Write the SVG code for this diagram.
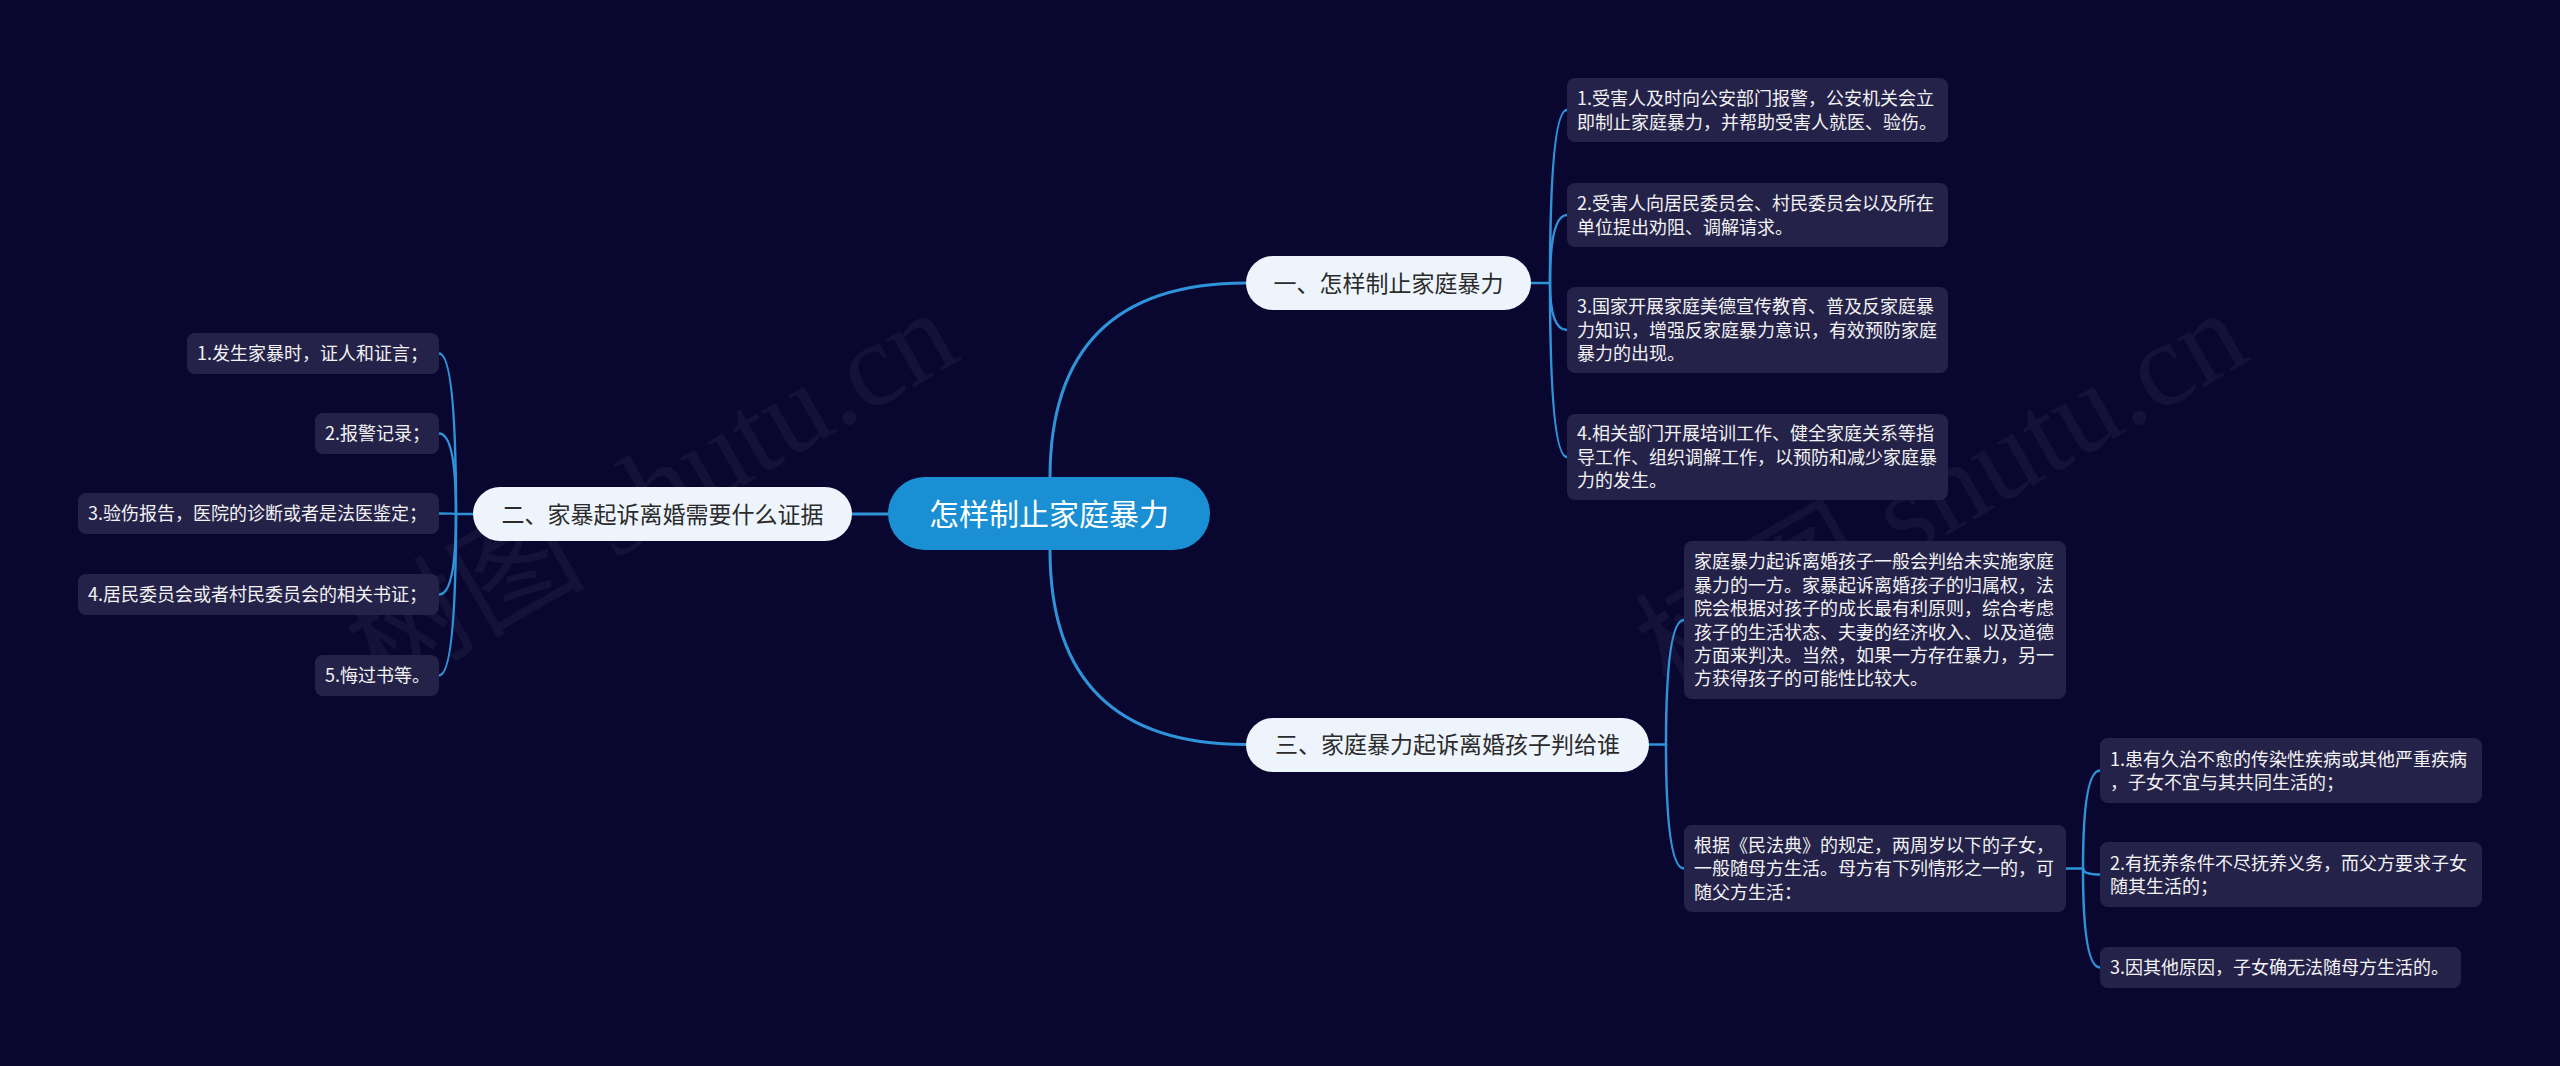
<svg xmlns="http://www.w3.org/2000/svg" width="2560" height="1066" viewBox="0 0 2560 1066">
<style>
.bg{fill:#09062f}
.wm{font-family:"Liberation Serif","Noto Sans CJK SC",serif;font-size:120px;fill:#ffffff;fill-opacity:0.05}
.root rect{fill:#1a8fd3}
.root text{font-family:"Noto Sans CJK SC",sans-serif;font-size:30px;fill:#ffffff;text-anchor:middle}
.br rect{fill:#eef4fc}
.br text{font-family:"Noto Sans CJK SC",sans-serif;font-size:23px;fill:#2b2b2b;text-anchor:middle}
.lf rect{fill:#25224a}
.lf text{font-family:"Noto Sans CJK SC",sans-serif;font-size:18px;fill:#f2f2f2}
.c1{fill:none;stroke:#2f93da;stroke-width:3;stroke-linecap:round}
.c2{fill:none;stroke:#2f93da;stroke-width:2.5;stroke-linecap:round}
</style>
<rect class="bg" x="0" y="0" width="2560" height="1066"/>
<g id="watermarks">
<text class="wm" x="380" y="695" transform="rotate(-30 380 695)">树图 shutu.cn</text>
<text class="wm" x="1670" y="695" transform="rotate(-30 1670 695)">树图 shutu.cn</text>
</g>
<g id="connectors">
<path class="c1" d="M1050 478 Q1050 283 1246 283"/>
<path class="c1" d="M1050 550 Q1050 744.5 1246 744.5"/>
<path class="c1" d="M888 514 L852 514"/>
<path class="c2" d="M1531 283 H1550"/>
<path class="c2" d="M1550 283 Q1550 110 1567 110"/>
<path class="c2" d="M1550 283 Q1550 215 1567 215"/>
<path class="c2" d="M1550 283 Q1550 330 1567 330"/>
<path class="c2" d="M1550 283 Q1550 457 1567 457"/>
<path class="c2" d="M473 514 H456"/>
<path class="c2" d="M456 514 Q456 353.5 439 353.5"/>
<path class="c2" d="M456 514 Q456 433.5 439 433.5"/>
<path class="c2" d="M456 514 Q456 513.5 439 513.5"/>
<path class="c2" d="M456 514 Q456 594.5 439 594.5"/>
<path class="c2" d="M456 514 Q456 675.5 439 675.5"/>
<path class="c2" d="M1649 744.5 H1666"/>
<path class="c2" d="M1666 744.5 Q1666 620 1684 620"/>
<path class="c2" d="M1666 744.5 Q1666 868.5 1684 868.5"/>
<path class="c2" d="M2066 868.5 H2083"/>
<path class="c2" d="M2083 868.5 Q2083 770.5 2100 770.5"/>
<path class="c2" d="M2083 868.5 Q2083 874.5 2100 874.5"/>
<path class="c2" d="M2083 868.5 Q2083 967.5 2100 967.5"/>
</g>
<g id="root" class="root">
<rect x="888" y="477" width="322" height="73" rx="36.5"/>
<text x="1049" y="525">怎样制止家庭暴力</text>
</g>
<g id="branch1" class="br">
<rect x="1246" y="256" width="285" height="54" rx="27"/>
<text x="1388.5" y="291.5">一、怎样制止家庭暴力</text>
</g>
<g id="branch2" class="br">
<rect x="473" y="487" width="379" height="54" rx="27"/>
<text x="662.5" y="522.5">二、家暴起诉离婚需要什么证据</text>
</g>
<g id="branch3" class="br">
<rect x="1246" y="718" width="403" height="54" rx="27"/>
<text x="1447.5" y="753">三、家庭暴力起诉离婚孩子判给谁</text>
</g>
<g id="b1-leaf1" class="lf">
<rect x="1567" y="78" width="381" height="64" rx="8"/>
<text x="1577" y="105.1">1.受害人及时向公安部门报警，公安机关会立<tspan x="1577" dy="23.4">即制止家庭暴力，并帮助受害人就医、验伤。</tspan></text>
</g>
<g id="b1-leaf2" class="lf">
<rect x="1567" y="183" width="381" height="64" rx="8"/>
<text x="1577" y="210.1">2.受害人向居民委员会、村民委员会以及所在<tspan x="1577" dy="23.4">单位提出劝阻、调解请求。</tspan></text>
</g>
<g id="b1-leaf3" class="lf">
<rect x="1567" y="287" width="381" height="86" rx="8"/>
<text x="1577" y="313.4">3.国家开展家庭美德宣传教育、普及反家庭暴<tspan x="1577" dy="23.4">力知识，增强反家庭暴力意识，有效预防家庭</tspan><tspan x="1577" dy="23.4">暴力的出现。</tspan></text>
</g>
<g id="b1-leaf4" class="lf">
<rect x="1567" y="414" width="381" height="86" rx="8"/>
<text x="1577" y="440.4">4.相关部门开展培训工作、健全家庭关系等指<tspan x="1577" dy="23.4">导工作、组织调解工作，以预防和减少家庭暴</tspan><tspan x="1577" dy="23.4">力的发生。</tspan></text>
</g>
<g id="b2-leaf1" class="lf">
<rect x="187" y="333" width="252" height="41" rx="8"/>
<text x="197" y="360.3">1.发生家暴时，证人和证言；</text>
</g>
<g id="b2-leaf2" class="lf">
<rect x="315" y="413" width="124" height="41" rx="8"/>
<text x="325" y="440.3">2.报警记录；</text>
</g>
<g id="b2-leaf3" class="lf">
<rect x="78" y="493" width="361" height="41" rx="8"/>
<text x="88" y="520.3">3.验伤报告，医院的诊断或者是法医鉴定；</text>
</g>
<g id="b2-leaf4" class="lf">
<rect x="78" y="574" width="361" height="41" rx="8"/>
<text x="88" y="601.3">4.居民委员会或者村民委员会的相关书证；</text>
</g>
<g id="b2-leaf5" class="lf">
<rect x="315" y="655" width="124" height="41" rx="8"/>
<text x="325" y="682.3">5.悔过书等。</text>
</g>
<g id="b3-leaf1" class="lf">
<rect x="1684" y="541" width="382" height="158" rx="8"/>
<text x="1694" y="568.3">家庭暴力起诉离婚孩子一般会判给未实施家庭<tspan x="1694" dy="23.4">暴力的一方。家暴起诉离婚孩子的归属权，法</tspan><tspan x="1694" dy="23.4">院会根据对孩子的成长最有利原则，综合考虑</tspan><tspan x="1694" dy="23.4">孩子的生活状态、夫妻的经济收入、以及道德</tspan><tspan x="1694" dy="23.4">方面来判决。当然，如果一方存在暴力，另一</tspan><tspan x="1694" dy="23.4">方获得孩子的可能性比较大。</tspan></text>
</g>
<g id="b3-leaf2" class="lf">
<rect x="1684" y="825" width="382" height="87" rx="8"/>
<text x="1694" y="851.9">根据《民法典》的规定，两周岁以下的子女，<tspan x="1694" dy="23.4">一般随母方生活。母方有下列情形之一的，可</tspan><tspan x="1694" dy="23.4">随父方生活：</tspan></text>
</g>
<g id="b3-sub1" class="lf">
<rect x="2100" y="738" width="382" height="65" rx="8"/>
<text x="2110" y="765.6">1.患有久治不愈的传染性疾病或其他严重疾病<tspan x="2110" dy="23.4">，子女不宜与其共同生活的；</tspan></text>
</g>
<g id="b3-sub2" class="lf">
<rect x="2100" y="842" width="382" height="65" rx="8"/>
<text x="2110" y="869.6">2.有抚养条件不尽抚养义务，而父方要求子女<tspan x="2110" dy="23.4">随其生活的；</tspan></text>
</g>
<g id="b3-sub3" class="lf">
<rect x="2100" y="947" width="361" height="41" rx="8"/>
<text x="2110" y="974.3">3.因其他原因，子女确无法随母方生活的。</text>
</g>
</svg>
